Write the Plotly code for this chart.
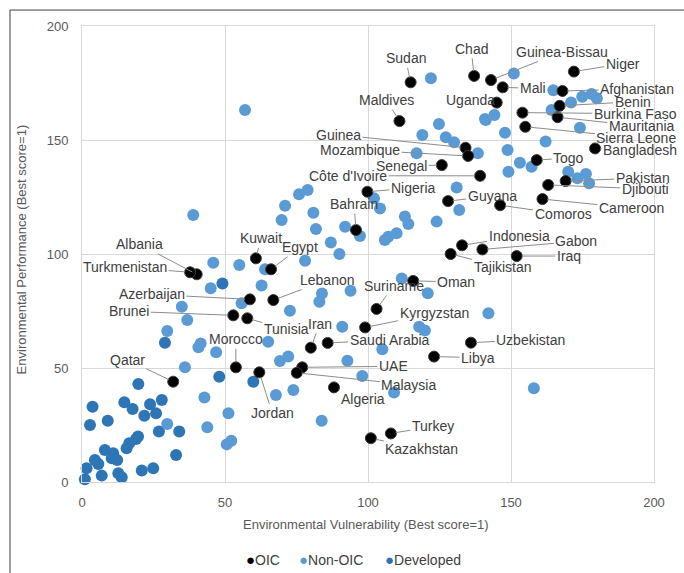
import plotly.graph_objects as go

# ---------------- DATA ----------------
oic_names = ["Sudan", "Chad", "Guinea-Bissau", "Mali", "Uganda", "Niger", "Afghanistan", "Benin",
             "Burkina Faso", "Mauritania", "Sierra Leone", "Bangladesh", "Togo", "Pakistan", "Djibouti",
             "Cameroon", "Comoros", "Guyana", "Senegal", "Guinea", "Mozambique", "Côte d'Ivoire",
             "Maldives", "Nigeria", "Bahrain", "Indonesia", "Gabon", "Tajikistan", "Iraq", "Oman",
             "Suriname", "Kyrgyzstan", "Saudi Arabia", "Iran", "UAE", "Malaysia", "Algeria", "Libya",
             "Uzbekistan", "Turkey", "Kazakhstan", "Jordan", "Morocco", "Tunisia", "Lebanon",
             "Azerbaijan", "Brunei", "Egypt", "Kuwait", "Albania", "Turkmenistan", "Qatar"]
oic_x = [114.9, 137.1, 143.0, 147.1, 145.0, 172.0, 168.0, 167.0,
         154.0, 166.3, 155.0, 179.4, 159.0, 169.1, 163.0,
         161.0, 146.2, 128.0, 125.8, 134.1, 135.0, 139.2,
         111.0, 99.8, 95.8, 132.9, 140.0, 128.9, 152.0, 115.8,
         103.0, 99.0, 85.9, 80.0, 77.0, 75.1, 88.1, 123.1,
         136.0, 108.0, 101.0, 62.0, 53.8, 57.8, 66.9,
         58.7, 52.9, 66.1, 60.8, 40.1, 37.8, 31.9]
oic_y = [175.3, 178.1, 176.3, 173.1, 166.4, 180.0, 171.5, 165.0,
         162.0, 160.0, 155.8, 146.3, 141.2, 132.0, 130.3,
         124.1, 121.4, 123.2, 139.0, 146.6, 143.0, 134.3,
         158.3, 127.3, 110.5, 103.8, 102.0, 100.0, 99.1, 88.2,
         75.9, 67.8, 61.0, 58.9, 50.3, 47.9, 41.5, 55.0,
         61.1, 21.3, 19.2, 48.1, 50.3, 71.8, 79.8,
         80.1, 73.1, 93.3, 98.1, 91.1, 92.0, 44.0]

nonoic_x = [57.0, 38.9, 78.9, 75.9, 71.0, 80.9, 69.8, 81.8, 92.0, 97.2, 87.0, 102.1, 104.2,
            124.8, 119.0, 127.2, 130.1, 138.4, 117.0, 141.2, 144.2, 147.9, 148.8, 149.1,
            131.0, 131.9, 124.0, 112.9, 114.1, 110.0, 107.1, 105.9, 90.0, 78.0, 64.0, 62.8,
            83.9, 93.9, 111.8, 120.9, 122.0, 151.0, 164.8, 174.9, 178.2, 180.0, 171.0, 164.2,
            174.1, 140.9, 153.1, 157.2, 162.1, 170.0, 173.2, 176.2, 177.3, 142.1, 117.9, 119.9,
            105.0, 109.1, 158.0, 55.0, 55.8, 83.0, 72.7, 91.0, 65.1, 69.2, 72.1, 92.8,
            98.0, 73.9, 67.8, 83.8, 52.2, 45.9, 45.0, 34.9, 36.8, 29.8, 41.5, 40.7, 46.9,
            36.0, 42.8, 51.2, 43.8, 29.8, 50.6]
nonoic_y = [163.2, 117.1, 128.1, 126.2, 121.2, 118.1, 114.9, 111.0, 112.0, 107.9, 105.0, 124.4, 120.0,
            157.0, 152.2, 151.2, 149.0, 144.2, 144.2, 158.8, 161.0, 153.2, 145.6, 136.1,
            129.2, 119.3, 114.2, 116.4, 113.2, 109.1, 107.6, 106.1, 100.0, 97.0, 93.3, 86.2,
            82.7, 83.9, 89.3, 82.8, 177.1, 179.2, 171.8, 169.0, 170.2, 168.3, 166.4, 163.2,
            155.4, 159.2, 140.0, 138.3, 149.3, 136.1, 133.2, 135.1, 131.0, 74.0, 68.1, 66.4,
            58.2, 39.2, 41.1, 95.2, 78.4, 79.1, 75.1, 68.1, 61.5, 53.1, 55.0, 53.2,
            46.5, 40.4, 38.2, 26.9, 18.1, 96.2, 85.0, 76.9, 71.1, 66.2, 60.8, 59.1, 56.9,
            50.3, 37.1, 30.2, 24.0, 25.4, 16.5]

dev_x = [3.7, 14.8, 17.7, 23.8, 27.9, 21.8, 25.9, 2.8, 9.0, 26.9, 34.0, 18.9, 16.5, 15.6,
         8.0, 10.9, 10.4, 12.3, 4.5, 5.7, 32.9, 1.6, 6.9, 12.7, 13.9, 20.9, 24.9, 1.0,
         19.7, 29.0, 49.1, 48.0, 59.9, 19.6]
dev_y = [33.0, 35.0, 32.0, 34.1, 36.0, 29.1, 30.1, 25.0, 26.9, 22.1, 22.1, 18.9, 17.0, 14.8,
         14.0, 12.6, 10.4, 9.6, 9.6, 7.9, 11.8, 6.0, 2.8, 3.8, 2.1, 5.0, 6.0, 1.2,
         43.0, 61.1, 87.1, 46.2, 44.0, 20.0]

series_names = ["OIC", "Non-OIC", "Developed"]
axis_ticks = [0, 50, 100, 150, 200]
x_title = "Environmental Vulnerability (Best score=1)"
y_title = "Environmental Performance (Best score=1)"

# ---------------- STYLE / LAYOUT ----------------
# label offsets in pixels: text centre relative to its dot
label_offsets = {
    "Sudan": (-5, -24), "Chad": (-3, -27), "Guinea-Bissau": (71, -28), "Mali": (30, 1),
    "Uganda": (-26, -3), "Niger": (49, -8), "Afghanistan": (75, -2), "Benin": (73, -4),
    "Burkina Faso": (113, 1), "Mauritania": (84, 9), "Sierra Leone": (111, 11),
    "Bangladesh": (45, 2), "Togo": (32, -2), "Pakistan": (77, -3), "Djibouti": (97, 4),
    "Cameroon": (89, 9), "Comoros": (63, 9), "Guyana": (44, -5), "Senegal": (-40, 1),
    "Guinea": (-127, -13), "Mozambique": (-108, -6), "Côte d'Ivoire": (-132, 0),
    "Maldives": (-13, -21), "Nigeria": (46, -4), "Bahrain": (-2, -26), "Indonesia": (57, -9),
    "Gabon": (94, -8), "Tajikistan": (52, 13), "Iraq": (52, 0), "Oman": (43, 1),
    "Suriname": (17, -23), "Kyrgyzstan": (69, -14), "Saudi Arabia": (62, -3), "Iran": (9, -24),
    "UAE": (91, -1), "Malaysia": (112, 12), "Algeria": (29, 12), "Libya": (44, 1),
    "Uzbekistan": (60, -3), "Turkey": (42, -7), "Kazakhstan": (51, 11), "Jordan": (13, 41),
    "Morocco": (0, -28), "Tunisia": (39, 11), "Lebanon": (54, -20), "Azerbaijan": (-98, -5),
    "Brunei": (-104, -4), "Egypt": (29, -22), "Kuwait": (5, -20), "Albania": (-57, -30),
    "Turkmenistan": (-65, -5), "Qatar": (-46, -22),
}
legend_x = {"OIC": 0.2832, "Non-OIC": 0.3759, "Developed": 0.5262}   # left edge of each legend item (paper)

FONT = "Liberation Sans"
LABEL_COLOR = "#404040"
AXIS_COLOR = "#595959"
GRID = "#d9d9d9"
COLORS = {"OIC": "#000000", "Non-OIC": "#5b9bd5", "Developed": "#2e75b6"}

fig = go.Figure()
fig.add_trace(go.Scatter(x=dev_x, y=dev_y, mode="markers", name=series_names[2],
                         marker=dict(size=12, color=COLORS["Developed"]), cliponaxis=False,
                         hoverinfo="skip"))
fig.add_trace(go.Scatter(x=nonoic_x, y=nonoic_y, mode="markers", name=series_names[1],
                         marker=dict(size=12, color=COLORS["Non-OIC"]), cliponaxis=False,
                         hoverinfo="skip"))
fig.add_trace(go.Scatter(x=oic_x, y=oic_y, mode="markers", name=series_names[0],
                         marker=dict(size=11, color=COLORS["OIC"], line=dict(color="#3a3a3a", width=1)),
                         cliponaxis=False, hoverinfo="skip"))

annotations = []
for name, x, y in zip(oic_names, oic_x, oic_y):
    dx, dy = label_offsets.get(name, (30, -15))
    annotations.append(dict(x=x, y=y, xref="x", yref="y", text=name, showarrow=True,
                            ax=dx, ay=dy, arrowhead=0, arrowwidth=1, arrowcolor="#8c8c8c",
                            standoff=5, font=dict(family=FONT, size=14, color=LABEL_COLOR)))

annotations.append(dict(x=0.4965, y=-0.094, xref="paper", yref="paper", text=x_title,
                        showarrow=False, xanchor="center", yanchor="middle",
                        font=dict(family=FONT, size=13, color=AXIS_COLOR)))
annotations.append(dict(x=-0.105, y=0.51, xref="paper", yref="paper", text=y_title,
                        textangle=-90, showarrow=False, xanchor="center", yanchor="middle",
                        font=dict(family=FONT, size=13, color=AXIS_COLOR)))

# compact legend (bullet + name), as in the reference
for n in series_names:
    annotations.append(dict(x=legend_x[n], y=-0.169, xref="paper", yref="paper",
                            text=f"<span style='color:{COLORS[n]};font-size:15px'>●</span>{n}",
                            showarrow=False, xanchor="left", yanchor="middle",
                            font=dict(family=FONT, size=14, color=LABEL_COLOR)))

fig.update_layout(
    width=684, height=573,
    margin=dict(l=82, r=30, t=26, b=91),
    paper_bgcolor="white", plot_bgcolor="white",
    font=dict(family=FONT, size=13, color=AXIS_COLOR),
    showlegend=False,
    annotations=annotations,
    shapes=[
        dict(type="line", xref="paper", yref="paper", x0=-0.1259, x1=1.06, y0=1.035, y1=1.035,
             line=dict(color="#3f3f3f", width=1)),
        dict(type="line", xref="paper", yref="paper", x0=-0.1259, x1=-0.1259, y0=1.035, y1=-0.21,
             line=dict(color="#3f3f3f", width=1)),
    ],
)
fig.update_xaxes(range=[0, 200], tickvals=axis_ticks, showgrid=True, gridcolor=GRID, gridwidth=1,
                 showline=True, linecolor=GRID, linewidth=1, mirror=True, zeroline=False,
                 ticks="", ticklabelstandoff=8, tickfont=dict(family=FONT, size=13, color=AXIS_COLOR))
fig.update_yaxes(range=[0, 200], tickvals=axis_ticks, showgrid=True, gridcolor=GRID, gridwidth=1,
                 showline=True, linecolor=GRID, linewidth=1, mirror=True, zeroline=False,
                 ticks="", ticklabelstandoff=10, tickfont=dict(family=FONT, size=13, color=AXIS_COLOR))

fig.write_html("out.html", config={"displayModeBar": False},
               post_script="document.body.style.margin='0px';")
